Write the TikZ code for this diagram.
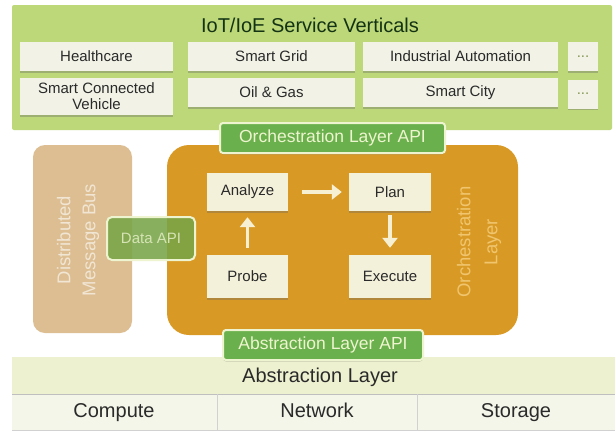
\documentclass[tikz,border=0pt]{standalone}
\usepackage{fontspec}
\setmainfont{Liberation Sans}
\usetikzlibrary{arrows.meta,shadows}
\definecolor{panelgreen}{HTML}{BCD878}
\definecolor{boxwhite}{HTML}{F2F3E6}
\definecolor{apigreen}{HTML}{6AB04C}
\definecolor{apiborder}{HTML}{EEF4D0}
\definecolor{orch}{HTML}{D99A25}
\definecolor{tan}{HTML}{DCBE92}
\definecolor{datagreen}{HTML}{78A548}
\definecolor{abstr}{HTML}{EEF1CF}
\definecolor{hwrow}{HTML}{F5F6EA}
\definecolor{txt}{HTML}{2A2A2A}
\definecolor{cream}{HTML}{F6EFD2}
\definecolor{orchtext}{HTML}{F0C56E}
\tikzset{
  vbox/.style={fill=boxwhite, text=txt, font=\fontsize{15}{16}\selectfont, align=center, inner sep=0pt,
    drop shadow={shadow xshift=0pt, shadow yshift=-1.5pt, opacity=0.35, fill=black!60}},
  mbox/.style={fill=cream!60!boxwhite, text=txt, font=\fontsize{15}{16}\selectfont, inner sep=0pt,
    drop shadow={shadow xshift=0pt, shadow yshift=-1.5pt, opacity=0.35, fill=black!60}},
  apibox/.style={fill=apigreen, draw=apiborder, line width=2pt, rounded corners=3pt, text=apiborder,
    font=\fontsize{17.5}{18}\selectfont, inner sep=0pt,
    drop shadow={shadow xshift=0pt, shadow yshift=-1.5pt, opacity=0.3, fill=black!60}},
  flowarr/.style={draw=cream, line width=3.5pt, -{Triangle[length=10pt,width=15pt]}},
  rowtext/.style={text=txt, font=\fontsize{20}{22}\selectfont, text height=14pt, text depth=4pt},
}
\begin{document}
\begin{tikzpicture}[x=1pt,y=-1pt]
\useasboundingbox[fill=white] (0,0) rectangle (615,431);
% top panel
\fill[panelgreen, rounded corners=2pt] (12,5) rectangle (612,130);
\node[text=txt!80!green!60!black, font=\fontsize{20}{22}\selectfont] (title) at (310,25) {IoT/IoE Service Verticals};
\node[vbox, minimum width=153pt, minimum height=29pt] (hc) at (96.5,56.5) {Healthcare};
\node[vbox, minimum width=167pt, minimum height=29pt] (sg) at (271.5,56.5) {Smart Grid};
\node[vbox, minimum width=195pt, minimum height=29pt] (ia) at (460.5,56.5) {Industrial Automation};
\node[vbox, minimum width=30pt, minimum height=29pt, text=panelgreen!70!black] (d1) at (583,56.5) {...};
\node[vbox, minimum width=153pt, minimum height=37pt] (scv) at (96.5,96.5) {Smart Connected\\Vehicle};
\node[vbox, minimum width=167pt, minimum height=29pt] (og) at (271.5,92.5) {Oil \& Gas};
\node[vbox, minimum width=195pt, minimum height=29pt] (sc) at (460.5,92.5) {Smart City};
\node[vbox, minimum width=30pt, minimum height=29pt, text=panelgreen!70!black] (d2) at (583,94) {...};
% middle
\fill[tan, rounded corners=12pt] (33,145) rectangle (132,333);
\node[rotate=90, align=center, text=tan!40!white, font=\fontsize{18.5}{25}\selectfont] (dmb) at (78,240) {Distributed\\Message Bus};
\fill[orch, rounded corners=22pt] (167,145) rectangle (518,335);
\node[rotate=90, align=center, text=orchtext, font=\fontsize{18.5}{27}\selectfont] (ol) at (479,242) {Orchestration\\Layer};
\node[apibox, minimum width=225pt, minimum height=30pt] (oapi) at (332.5,138) {Orchestration Layer API};
\node[fill=datagreen, fill opacity=0.88, text opacity=1, draw=apiborder, line width=2pt, rounded corners=5pt,
  text=apiborder!80!datagreen, font=\fontsize{15}{16}\selectfont, minimum width=88pt, minimum height=43pt, inner sep=0pt] (dapi) at (151,238.5) {Data API};
\node[mbox, minimum width=81pt, minimum height=38pt] (an) at (247.5,192) {Analyze};
\node[mbox, minimum width=82pt, minimum height=38pt] (pl) at (390,192) {Plan};
\node[mbox, minimum width=81pt, minimum height=43pt] (pr) at (247.5,276.5) {Probe};
\node[mbox, minimum width=82pt, minimum height=43pt] (ex) at (390,276.5) {Execute};
\draw[flowarr, shorten <=14pt, shorten >=7pt] (an) -- (pl);
\draw[flowarr, shorten <=7pt, shorten >=6pt] (pr) -- (an);
\draw[flowarr, shorten <=4pt, shorten >=7pt] (pl) -- (ex);
% bottom
\fill[abstr] (12,357) rectangle (615,394);
\fill[hwrow] (12,394) rectangle (615,430);
\draw[black!25, line width=1pt] (12,394) -- (615,394);
\draw[black!18, line width=0.8pt] (12,430) -- (615,430);
\coordinate (v1a) at (217,394); \coordinate (v1b) at (217,430);
\coordinate (v2a) at (417,394); \coordinate (v2b) at (417,430);
\draw[black!18, line width=0.8pt] (v1a) -- (v1b);
\draw[black!18, line width=0.8pt] (v2a) -- (v2b);
\node[apibox, minimum width=200pt, minimum height=30pt] (aapi) at (323,345) {Abstraction Layer API};
\node[rowtext] (al) at (320,377) {Abstraction Layer};
\node[rowtext] (cp) at (114,412) {Compute};
\node[rowtext] (nw) at (317,412) {Network};
\node[rowtext] (st) at (516,412) {Storage};
\end{tikzpicture}
\end{document}
